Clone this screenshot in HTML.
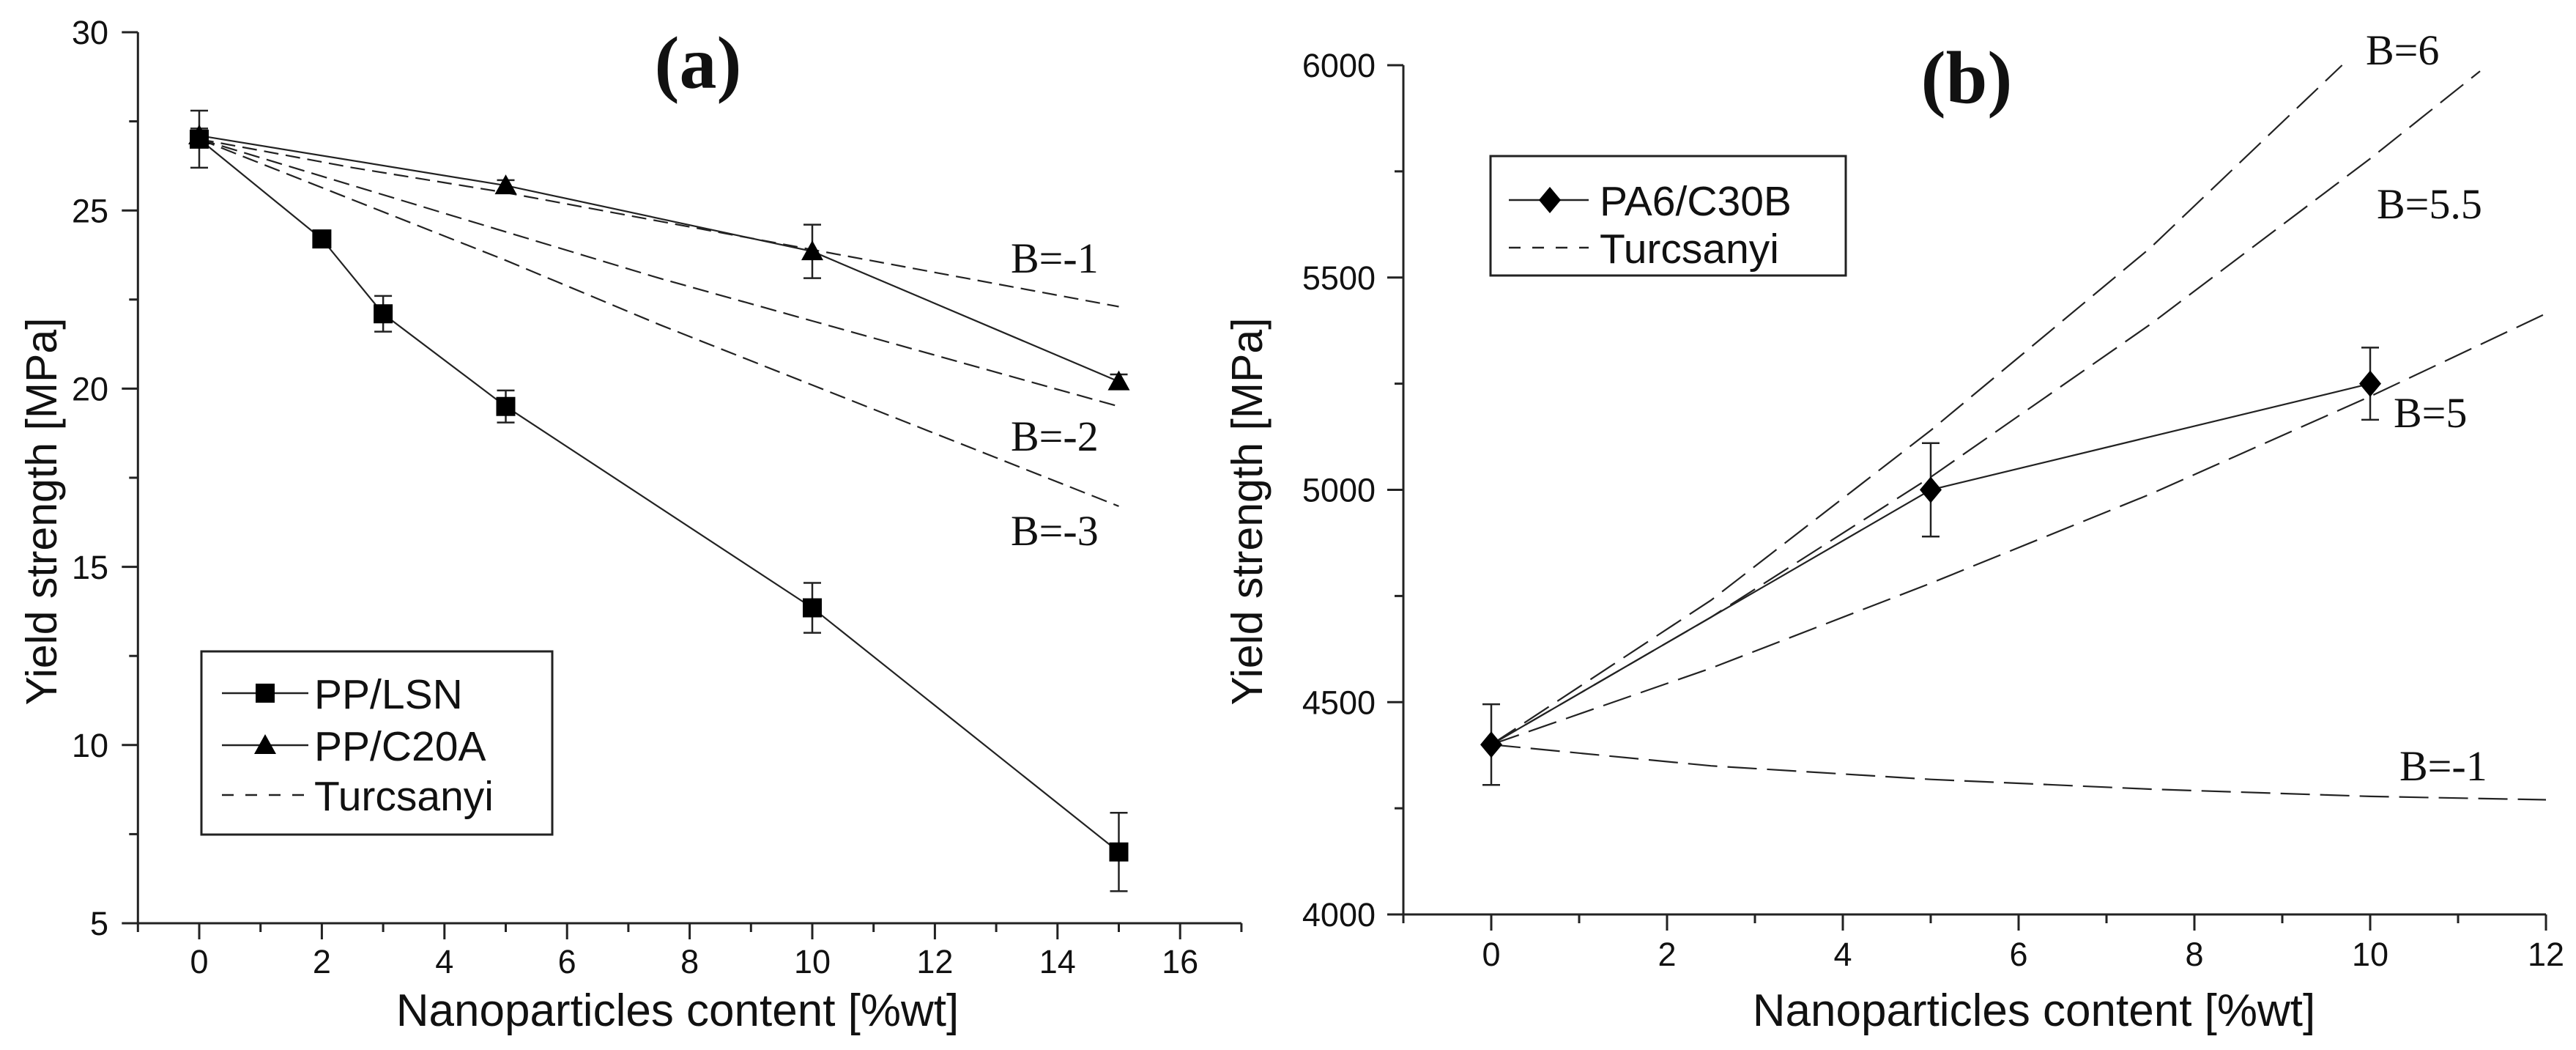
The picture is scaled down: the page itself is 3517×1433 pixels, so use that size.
<!DOCTYPE html>
<html><head><meta charset="utf-8">
<style>
html,body{margin:0;padding:0;background:#fff;}
svg{display:block;}
</style></head>
<body>
<svg id="fig" width="3517" height="1433" viewBox="0 0 3517 1433" xmlns="http://www.w3.org/2000/svg">
  <g id="chartA"></g>
  <g id="chartB"></g>
</svg>
<script>
// ---------- Chart (a) data ----------
const aLsnX = [0, 2, 3, 5, 10, 15];
const aLsnY = [27, 24.2, 22.1, 19.5, 13.85, 7.0];
const aLsnErr = [0.8, 0.1, 0.5, 0.45, 0.7, 1.1];
const aC20X = [0, 5, 10, 15];
const aC20Y = [27.1, 25.7, 23.85, 20.2];
const aC20Err = [0.2, 0.15, 0.75, 0.2];
const aTurcX = [0, 2.5, 5, 7.5, 10, 12.5, 15];
const aTurcBm1 = [27, 26.2, 25.5, 24.7, 23.9, 23.1, 22.3];
const aTurcBm2 = [27, 25.7, 24.4, 23.1, 21.9, 20.7, 19.5];
const aTurcBm3 = [27, 25.3, 23.6, 21.8, 20.1, 18.4, 16.7];
const aXTicks = [0, 2, 4, 6, 8, 10, 12, 14, 16];
const aYTicks = [5, 10, 15, 20, 25, 30];
// ---------- Chart (b) data ----------
const bPaX = [0, 5, 10];
const bPaY = [4400, 5000, 5250];
const bPaErr = [95, 110, 85];
const bB6X = [0, 2.5, 5, 7.5, 9.68];
const bB6Y = [4400, 4740, 5140, 5570, 6000];
const bB55X = [0, 2.5, 5, 7.5, 10, 11.25];
const bB55Y = [4400, 4700, 5030, 5390, 5780, 5986];
const bB5X = [0, 2.5, 5, 7.5, 10, 12];
const bB5Y = [4400, 4580, 4780, 4990, 5220, 5415];
const bBm1X = [0, 2.5, 5, 7.5, 10, 12];
const bBm1Y = [4400, 4350, 4318, 4295, 4278, 4270];
const bXTicks = [0, 2, 4, 6, 8, 10, 12];
const bYTicks = [4000, 4500, 5000, 5500, 6000];

const NS = 'http://www.w3.org/2000/svg';
function mk(parent, tag, attrs, text) {
  const e = document.createElementNS(NS, tag);
  for (const k in attrs) e.setAttribute(k, attrs[k]);
  if (text !== undefined) e.textContent = text;
  parent.appendChild(e);
  return e;
}
const SANS = '"Liberation Sans", Arial, sans-serif';
const SERIF = '"Liberation Serif", "Times New Roman", serif';

// axis functions
const axA = { x: v => 272 + v * 83.7, y: v => 44 + (30 - v) * 48.64 };
const axB = { x: v => 2036 + v * 120, y: v => 89 + (6000 - v) * (1248 - 89) / 2000 };

function poly(g, xs, ys, ax, dash, name) {
  const pts = xs.map((x, i) => ax.x(x).toFixed(1) + ',' + ax.y(ys[i]).toFixed(1)).join(' ');
  const p = mk(g, 'polyline', { points: pts, fill: 'none', stroke: '#222', 'stroke-width': 2.2 });
  if (dash) p.setAttribute('stroke-dasharray', dash);
  
  
  return p;
}
function errBars(g, xs, ys, es, ax, name) {
  xs.forEach((x, i) => {
    const cx = ax.x(x), y1 = ax.y(ys[i] + es[i]), y2 = ax.y(ys[i] - es[i]);
    const e = mk(g, 'path', { d: `M${cx},${y1}V${y2}M${cx - 12},${y1}H${cx + 12}M${cx - 12},${y2}H${cx + 12}`, stroke: '#222', 'stroke-width': 2.5, fill: 'none' });
    
    
  });
}
function marker(g, type, cx, cy, name) {
  let e;
  if (type === 'square') e = mk(g, 'rect', { x: cx - 13, y: cy - 13, width: 26, height: 26, fill: '#000' });
  else if (type === 'triangle') e = mk(g, 'polygon', { points: `${cx},${cy - 15} ${cx + 15},${cy + 12} ${cx - 15},${cy + 12}`, fill: '#000' });
  else e = mk(g, 'polygon', { points: `${cx},${cy - 18} ${cx + 15},${cy} ${cx},${cy + 18} ${cx - 15},${cy}`, fill: '#000' });
  
  
}
function axes(g, ax, x0, x1, y0, y1, xTicks, yTicks, xMinorStep, yMinorStep, xLabY, yLabRight, fsTick) {
  const L = ax.x(x0), R = ax.x(x1), T = ax.y(y1), B = ax.y(y0);
  const a = mk(g, 'path', { d: `M${L},${T}V${B}H${R}`, stroke: '#222', 'stroke-width': 3, fill: 'none' });
  
  
  // x ticks
  for (let v = x0; v <= x1 + 1e-9; v += xMinorStep) {
    const major = xTicks.includes(Math.round(v * 1000) / 1000);
    const t = mk(g, 'line', { x1: ax.x(v), x2: ax.x(v), y1: B, y2: B + (major ? 22 : 12), stroke: '#222', 'stroke-width': 3 });
    
    
  }
  xTicks.forEach(v => {
    const t = mk(g, 'text', { x: ax.x(v), y: xLabY, 'font-family': SANS, 'font-size': fsTick, 'text-anchor': 'middle', fill: '#111' }, String(v));
    
    
  });
  for (let v = y0; v <= y1 + 1e-9; v += yMinorStep) {
    const major = yTicks.includes(Math.round(v * 1000) / 1000);
    const t = mk(g, 'line', { x1: L, x2: L - (major ? 22 : 12), y1: ax.y(v), y2: ax.y(v), stroke: '#222', 'stroke-width': 3 });
    
    
  }
  yTicks.forEach(v => {
    const t = mk(g, 'text', { x: yLabRight, y: ax.y(v) + fsTick * 0.36, 'font-family': SANS, 'font-size': fsTick, 'text-anchor': 'end', fill: '#111' }, String(v));
    
    
  });
}
function txt(g, x, y, s, fam, fs, name, extra) {
  const t = mk(g, 'text', Object.assign({ x: x, y: y, 'font-family': fam, 'font-size': fs, fill: '#111' }, extra || {}), s);
  
  
  return t;
}

// ---------- Chart (a) ----------
const gA = document.getElementById('chartA');
axes(gA, axA, -1, 17, 5, 30, aXTicks, aYTicks, 1, 2.5, 1328, 148, 45);
txt(gA, 953, 120, '(a)', SERIF, 102, 'chart-a-title', { 'font-weight': 'bold', 'text-anchor': 'middle' });
txt(gA, 925, 1400, 'Nanoparticles content [%wt]', SANS, 62, 'x-axis-title', { 'text-anchor': 'middle' });
txt(gA, 0, 0, 'Yield strength [MPa]', SANS, 59, 'y-axis-title', { 'text-anchor': 'middle', transform: 'translate(77,698) rotate(-90)' });
poly(gA, aTurcX, aTurcBm1, axA, '20 10', 'turcsanyi-b-minus1');
poly(gA, aTurcX, aTurcBm2, axA, '22 10', 'turcsanyi-b-minus2');
poly(gA, aTurcX, aTurcBm3, axA, '22 10', 'turcsanyi-b-minus3');
poly(gA, aLsnX, aLsnY, axA, null, 'pp-lsn-line');
poly(gA, aC20X, aC20Y, axA, null, 'pp-c20a-line');
errBars(gA, aLsnX, aLsnY, aLsnErr, axA, 'pp-lsn');
errBars(gA, aC20X, aC20Y, aC20Err, axA, 'pp-c20a');
aLsnX.forEach((x, i) => marker(gA, 'square', axA.x(x), axA.y(aLsnY[i]), 'pp-lsn-point'));
aC20X.forEach((x, i) => marker(gA, 'triangle', axA.x(x), axA.y(aC20Y[i]), 'pp-c20a-point'));
txt(gA, 1380, 372, 'B=-1', SERIF, 58, 'label-b-minus1');
txt(gA, 1380, 615, 'B=-2', SERIF, 58, 'label-b-minus2');
txt(gA, 1380, 744, 'B=-3', SERIF, 58, 'label-b-minus3');
// legend a
const lgA = mk(gA, 'g', {});


const lbA = mk(lgA, 'rect', { x: 275, y: 889, width: 479, height: 250, fill: '#fff', stroke: '#222', 'stroke-width': 3 });


[['PP/LSN', 946, 'square'], ['PP/C20A', 1017, 'triangle'], ['Turcsanyi', 1085, null]].forEach(([lab, y, m]) => {
  const l = mk(lgA, 'line', { x1: 303, x2: 421, y1: y, y2: y, stroke: '#222', 'stroke-width': 2.5 });
  if (!m) l.setAttribute('stroke-dasharray', '16 16');
  
  
  if (m) marker(lgA, m, 362, y, 'legend-marker');
  txt(lgA, 429, y + 21, lab, SANS, 57, 'legend-entry');
});

// ---------- Chart (b) ----------
const gB = document.getElementById('chartB');
axes(gB, axB, -1, 12, 4000, 6000, bXTicks, bYTicks, 1, 250, 1318, 1878, 45);
txt(gB, 2685, 140, '(b)', SERIF, 102, 'chart-b-title', { 'font-weight': 'bold', 'text-anchor': 'middle' });
txt(gB, 2777, 1400, 'Nanoparticles content [%wt]', SANS, 62, 'x-axis-title', { 'text-anchor': 'middle' });
txt(gB, 0, 0, 'Yield strength [MPa]', SANS, 59, 'y-axis-title', { 'text-anchor': 'middle', transform: 'translate(1723,698) rotate(-90)' });
poly(gB, bB6X, bB6Y, axB, '40 14', 'turcsanyi-b6');
poly(gB, bB55X, bB55Y, axB, '40 14', 'turcsanyi-b5-5');
poly(gB, bB5X, bB5Y, axB, '40 14', 'turcsanyi-b5');
poly(gB, bBm1X, bBm1Y, axB, '40 14', 'turcsanyi-b-minus1');
poly(gB, bPaX, bPaY, axB, null, 'pa6-c30b-line');
errBars(gB, bPaX, bPaY, bPaErr, axB, 'pa6-c30b');
bPaX.forEach((x, i) => marker(gB, 'diamond', axB.x(x), axB.y(bPaY[i]), 'pa6-c30b-point'));
txt(gB, 3230, 88, 'B=6', SERIF, 58, 'label-b6');
txt(gB, 3245, 298, 'B=5.5', SERIF, 58, 'label-b5-5');
txt(gB, 3268, 583, 'B=5', SERIF, 58, 'label-b5');
txt(gB, 3276, 1065, 'B=-1', SERIF, 58, 'label-b-minus1');
const lgB = mk(gB, 'g', {});


const lbB = mk(lgB, 'rect', { x: 2035, y: 213, width: 485, height: 163, fill: '#fff', stroke: '#222', 'stroke-width': 3 });


[['PA6/C30B', 273, 'diamond'], ['Turcsanyi', 338, null]].forEach(([lab, y, m]) => {
  const l = mk(lgB, 'line', { x1: 2060, x2: 2169, y1: y, y2: y, stroke: '#222', 'stroke-width': 2.5 });
  if (!m) l.setAttribute('stroke-dasharray', '16 16');
  
  
  if (m) marker(lgB, m, 2116, y, 'legend-marker');
  txt(lgB, 2184, y + 21, lab, SANS, 57, 'legend-entry');
});
</script>
</body></html>
